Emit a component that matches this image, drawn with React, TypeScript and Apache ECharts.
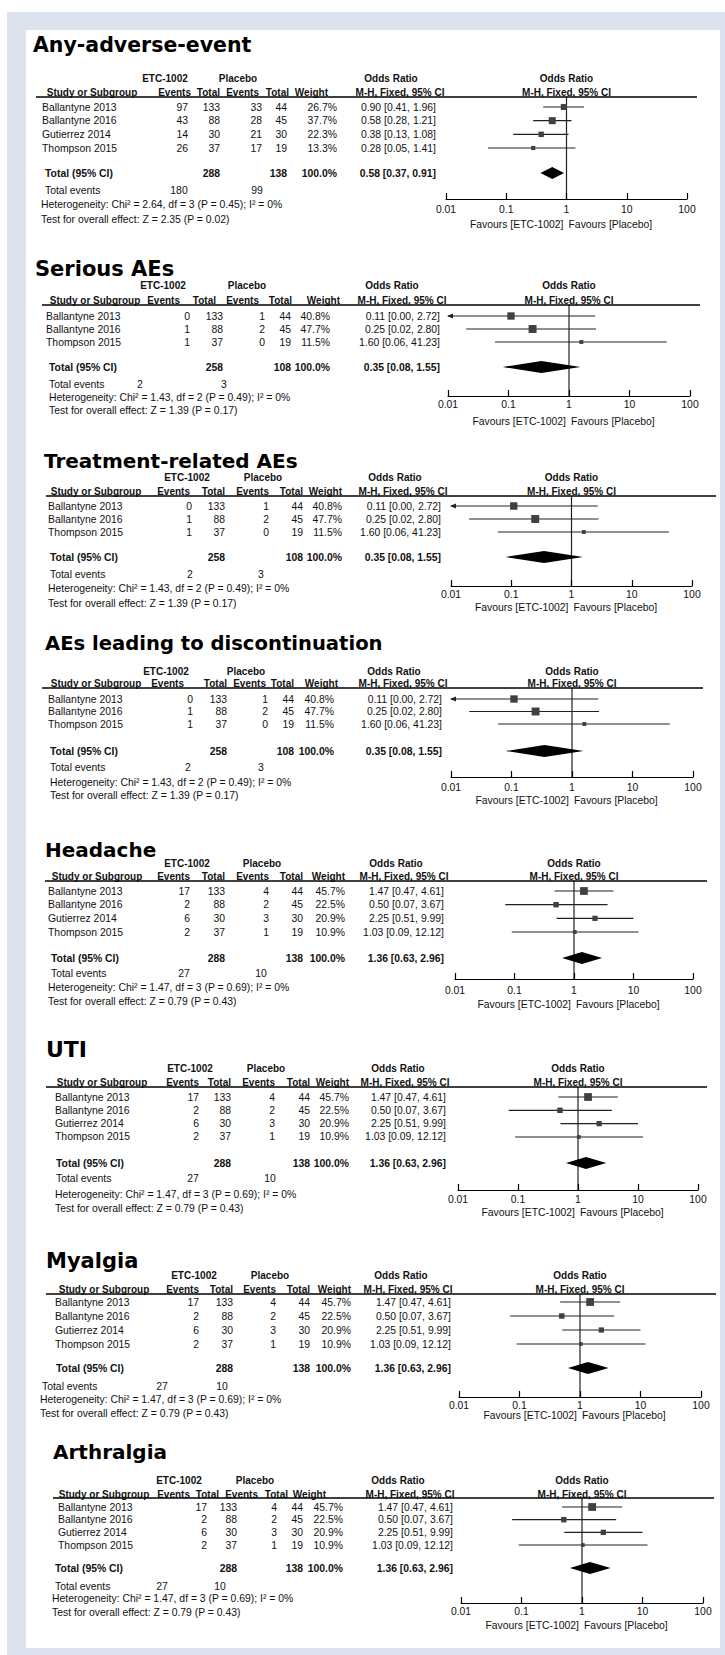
import React, { useEffect, useRef } from 'react';
import * as echarts from 'echarts';

const WIDTH = 725;
const HEIGHT = 1655;
const AXIS_MIN = 0.01;
const AXIS_MAX = 100;
const tickLabels = ['0.01', '0.1', '1', '10', '100'];

const panelTitles = [
  'Any-adverse-event',
  'Serious AEs',
  'Treatment-related AEs',
  'AEs leading to discontinuation',
  'Headache',
  'UTI',
  'Myalgia',
  'Arthralgia',
];

// ---- Any adverse event ----
const anyStudies = ['Ballantyne 2013', 'Ballantyne 2016', 'Gutierrez 2014', 'Thompson 2015'];
const anyEtcEvents = [97, 43, 14, 26];
const anyEtcTotal = [133, 88, 30, 37];
const anyPlaEvents = [33, 28, 21, 17];
const anyPlaTotal = [44, 45, 30, 19];
const anyWeight = [26.7, 37.7, 22.3, 13.3];
const anyOR = [0.9, 0.58, 0.38, 0.28];
const anyLow = [0.41, 0.28, 0.13, 0.05];
const anyHigh = [1.96, 1.21, 1.08, 1.41];
const anyTotals = [288, 138];
const anyPooled = [0.58, 0.37, 0.91];
const anyTotalEvents = [180, 99];
const anyStats = ['Chi² = 2.64, df = 3 (P = 0.45); I² = 0%', 'Z = 2.35 (P = 0.02)'];

// ---- Serious / treatment-related / discontinuation AEs (identical figures) ----
const saeStudies = ['Ballantyne 2013', 'Ballantyne 2016', 'Thompson 2015'];
const saeEtcEvents = [0, 1, 1];
const saeEtcTotal = [133, 88, 37];
const saePlaEvents = [1, 2, 0];
const saePlaTotal = [44, 45, 19];
const saeWeight = [40.8, 47.7, 11.5];
const saeOR = [0.11, 0.25, 1.6];
const saeLow = [0.0, 0.02, 0.06];
const saeHigh = [2.72, 2.8, 41.23];
const saeTotals = [258, 108];
const saePooled = [0.35, 0.08, 1.55];
const saeTotalEvents = [2, 3];
const saeStats = ['Chi² = 1.43, df = 2 (P = 0.49); I² = 0%', 'Z = 1.39 (P = 0.17)'];

// ---- Headache / UTI / Myalgia / Arthralgia (identical figures) ----
const ccStudies = ['Ballantyne 2013', 'Ballantyne 2016', 'Gutierrez 2014', 'Thompson 2015'];
const ccEtcEvents = [17, 2, 6, 2];
const ccEtcTotal = [133, 88, 30, 37];
const ccPlaEvents = [4, 2, 3, 1];
const ccPlaTotal = [44, 45, 30, 19];
const ccWeight = [45.7, 22.5, 20.9, 10.9];
const ccOR = [1.47, 0.5, 2.25, 1.03];
const ccLow = [0.47, 0.07, 0.51, 0.09];
const ccHigh = [4.61, 3.67, 9.99, 12.12];
const ccTotals = [288, 138];
const ccPooled = [1.36, 0.63, 2.96];
const ccTotalEvents = [27, 10];
const ccStats = ['Chi² = 1.47, df = 3 (P = 0.69); I² = 0%', 'Z = 0.79 (P = 0.43)'];

type PanelData = {
  studies: string[]; etcEvents: number[]; etcTotal: number[]; plaEvents: number[]; plaTotal: number[];
  weight: number[]; or: number[]; low: number[]; high: number[];
  totals: number[]; pooled: number[]; totalEvents: number[]; stats: string[];
};

const anyData: PanelData = {
  studies: anyStudies, etcEvents: anyEtcEvents, etcTotal: anyEtcTotal, plaEvents: anyPlaEvents, plaTotal: anyPlaTotal,
  weight: anyWeight, or: anyOR, low: anyLow, high: anyHigh, totals: anyTotals, pooled: anyPooled,
  totalEvents: anyTotalEvents, stats: anyStats,
};
const saeData: PanelData = {
  studies: saeStudies, etcEvents: saeEtcEvents, etcTotal: saeEtcTotal, plaEvents: saePlaEvents, plaTotal: saePlaTotal,
  weight: saeWeight, or: saeOR, low: saeLow, high: saeHigh, totals: saeTotals, pooled: saePooled,
  totalEvents: saeTotalEvents, stats: saeStats,
};
const ccData: PanelData = {
  studies: ccStudies, etcEvents: ccEtcEvents, etcTotal: ccEtcTotal, plaEvents: ccPlaEvents, plaTotal: ccPlaTotal,
  weight: ccWeight, or: ccOR, low: ccLow, high: ccHigh, totals: ccTotals, pooled: ccPooled,
  totalEvents: ccTotalEvents, stats: ccStats,
};
const panelData = [anyData, saeData, saeData, saeData, ccData, ccData, ccData, ccData];

// ---- layout (pixel positions per panel) ----
type Layout = {
  titleX: number; titleY: number; titleSize: number;
  hdr1Y: number; hdr2Y: number; lineY: number; lineX1: number; lineX2: number;
  row0: number; step: number; totalY: number; totEvY: number; hetY: number; testY: number;
  studyX: number; totalX: number; totEvX: number; hetX: number;
  e1: number; t1: number; e2: number; t2: number; w: number; orR: number;
  hE1: number; hT1: number; hE2: number; hT2: number; hW: number;
  studyC: number; etcC: number; plaC: number; orC: number; mhC: number;
  tev1: number; tev2: number;
  x001: number; x100: number; axisY: number; labY: number; favY: number;
};

const layouts: Layout[] = [
  { titleX: 33, titleY: 45, titleSize: 20.5, hdr1Y: 78, hdr2Y: 92, lineY: 97, lineX1: 36, lineX2: 697,
    row0: 107, step: 13.67, totalY: 173, totEvY: 190, hetY: 204, testY: 219,
    studyX: 42, totalX: 45, totEvX: 45, hetX: 41,
    e1: 188, t1: 220, e2: 262, t2: 287, w: 337, orR: 436,
    hE1: 191, hT1: 220, hE2: 259, hT2: 289, hW: 328,
    studyC: 92, etcC: 165, plaC: 238, orC: 391, mhC: 400, tev1: 179, tev2: 257,
    x001: 446, x100: 687, axisY: 199, labY: 210, favY: 224 },
  { titleX: 35, titleY: 269, titleSize: 21, hdr1Y: 285, hdr2Y: 300, lineY: 305, lineX1: 42, lineX2: 700,
    row0: 316, step: 13, totalY: 367, totEvY: 384, hetY: 397, testY: 410,
    studyX: 46, totalX: 49, totEvX: 49, hetX: 49,
    e1: 190, t1: 223, e2: 265, t2: 291, w: 330, orR: 440,
    hE1: 180, hT1: 216, hE2: 259, hT2: 292, hW: 340,
    studyC: 95, etcC: 163, plaC: 247, orC: 392, mhC: 402, tev1: 140, tev2: 224,
    x001: 448, x100: 690, axisY: 396, labY: 405, favY: 421 },
  { titleX: 44, titleY: 461, titleSize: 20, hdr1Y: 477, hdr2Y: 491, lineY: 496, lineX1: 46, lineX2: 716,
    row0: 506, step: 13, totalY: 557, totEvY: 574, hetY: 588, testY: 603,
    studyX: 48, totalX: 50, totEvX: 50, hetX: 48,
    e1: 192, t1: 225, e2: 269, t2: 303, w: 342, orR: 441,
    hE1: 190, hT1: 225, hE2: 269, hT2: 303, hW: 342,
    studyC: 96, etcC: 187, plaC: 263, orC: 395, mhC: 403, tev1: 190, tev2: 261,
    x001: 451, x100: 692, axisY: 586, labY: 595, favY: 607 },
  { titleX: 45, titleY: 643, titleSize: 19.6, hdr1Y: 671, hdr2Y: 683, lineY: 688, lineX1: 42, lineX2: 703,
    row0: 699, step: 12.5, totalY: 751, totEvY: 767, hetY: 782, testY: 795,
    studyX: 48, totalX: 50, totEvX: 50, hetX: 50,
    e1: 193, t1: 227, e2: 268, t2: 294, w: 334, orR: 442,
    hE1: 184, hT1: 227, hE2: 266, hT2: 294, hW: 338,
    studyC: 96, etcC: 166, plaC: 246, orC: 394, mhC: 403, tev1: 188, tev2: 261,
    x001: 451, x100: 693, axisY: 777, labY: 788, favY: 800 },
  { titleX: 45, titleY: 850, titleSize: 20, hdr1Y: 863, hdr2Y: 876, lineY: 881, lineX1: 45, lineX2: 707,
    row0: 891, step: 13.67, totalY: 958, totEvY: 973, hetY: 987, testY: 1001,
    studyX: 48, totalX: 51, totEvX: 51, hetX: 48,
    e1: 190, t1: 225, e2: 269, t2: 303, w: 345, orR: 444,
    hE1: 190, hT1: 225, hE2: 269, hT2: 303, hW: 345,
    studyC: 97, etcC: 187, plaC: 262, orC: 396, mhC: 404, tev1: 184, tev2: 261,
    x001: 455, x100: 693, axisY: 979, labY: 991, favY: 1004 },
  { titleX: 46, titleY: 1049, titleSize: 22, hdr1Y: 1068, hdr2Y: 1082, lineY: 1087, lineX1: 46, lineX2: 707,
    row0: 1097, step: 13.33, totalY: 1163, totEvY: 1178, hetY: 1194, testY: 1208,
    studyX: 55, totalX: 56, totEvX: 56, hetX: 55,
    e1: 199, t1: 231, e2: 275, t2: 310, w: 349, orR: 446,
    hE1: 199, hT1: 231, hE2: 275, hT2: 310, hW: 349,
    studyC: 102, etcC: 190, plaC: 266, orC: 398, mhC: 405, tev1: 193, tev2: 270,
    x001: 458, x100: 698, axisY: 1190, labY: 1200, favY: 1212 },
  { titleX: 46, titleY: 1261, titleSize: 21, hdr1Y: 1275, hdr2Y: 1289, lineY: 1294, lineX1: 46, lineX2: 716,
    row0: 1302, step: 14, totalY: 1368, totEvY: 1386, hetY: 1399, testY: 1413,
    studyX: 55, totalX: 56, totEvX: 42, hetX: 40,
    e1: 199, t1: 233, e2: 276, t2: 310, w: 351, orR: 451,
    hE1: 199, hT1: 233, hE2: 276, hT2: 310, hW: 351,
    studyC: 104, etcC: 194, plaC: 270, orC: 401, mhC: 408, tev1: 162, tev2: 222,
    x001: 459, x100: 701, axisY: 1397, labY: 1406, favY: 1415 },
  { titleX: 53, titleY: 1452, titleSize: 20, hdr1Y: 1480, hdr2Y: 1494, lineY: 1498, lineX1: 53, lineX2: 714,
    row0: 1507, step: 12.67, totalY: 1568, totEvY: 1586, hetY: 1598, testY: 1612,
    studyX: 58, totalX: 55, totEvX: 55, hetX: 52,
    e1: 207, t1: 237, e2: 277, t2: 303, w: 343, orR: 453,
    hE1: 190, hT1: 219, hE2: 258, hT2: 288, hW: 326,
    studyC: 104, etcC: 179, plaC: 255, orC: 398, mhC: 410, tev1: 162, tev2: 220,
    x001: 461, x100: 703, axisY: 1603, labY: 1612, favY: 1625 },
];

const FONT = '"Liberation Sans", Arial, Helvetica, sans-serif';
const BODY = `10.4px ${FONT}`;
const BOLD = `bold 10.4px ${FONT}`;
const HEAD = `bold 10px ${FONT}`;
const INK = '#111111';

function txt(text: string, x: number, y: number, align: string, font: string, fill = INK) {
  return {
    type: 'text',
    silent: true,
    z: 10,
    style: { text, x, y, textAlign: align, textVerticalAlign: 'middle', font, fill },
  };
}

function fmtCI(or: number, lo: number, hi: number) {
  return `${or.toFixed(2)} [${lo.toFixed(2)}, ${hi.toFixed(2)}]`;
}

function renderRow(_params: any, api: any) {
  const or = api.value(0);
  const lo = api.value(1);
  const hi = api.value(2);
  const row = api.value(3);
  const w = api.value(4);
  const kind = api.value(5);
  const pLo = api.coord([Math.max(lo, AXIS_MIN), row]);
  const pHi = api.coord([Math.min(hi, AXIS_MAX), row]);
  const pC = api.coord([or, row]);
  if (kind === 1) {
    return {
      type: 'polygon',
      shape: { points: [pLo, [pC[0], pC[1] - 6], pHi, [pC[0], pC[1] + 6]] },
      style: { fill: '#000000' },
    };
  }
  const s = 1.15 * Math.sqrt(w);
  const children: any[] = [
    { type: 'line', shape: { x1: pLo[0], y1: pLo[1], x2: pHi[0], y2: pHi[1] }, style: { stroke: '#222222', lineWidth: 1.2 } },
    { type: 'rect', shape: { x: pC[0] - s / 2, y: pC[1] - s / 2, width: s, height: s }, style: { fill: '#404040' } },
  ];
  if (lo < AXIS_MIN) {
    children.push({
      type: 'polygon',
      shape: { points: [[pLo[0] - 1, pLo[1]], [pLo[0] + 5, pLo[1] - 2.6], [pLo[0] + 5, pLo[1] + 2.6]] },
      style: { fill: '#222222' },
    });
  }
  return { type: 'group', children };
}

function renderNullLine(_params: any, api: any) {
  const a = api.coord([api.value(0), api.value(1)]);
  const b = api.coord([api.value(0), api.value(2)]);
  return { type: 'line', shape: { x1: a[0], y1: a[1], x2: b[0], y2: b[1] }, style: { stroke: '#222222', lineWidth: 1.2 } };
}

function tickFormatter(v: number) {
  const hit = tickLabels.find((t) => Math.abs(Math.log10(Number(t)) - Math.log10(v)) < 1e-6);
  return hit ?? '';
}

function buildOption() {
  const graphics: any[] = [
    { type: 'rect', z: -20, silent: true, shape: { x: 7, y: 12, width: 718, height: 1643 }, style: { fill: '#dde2ef' } },
    { type: 'rect', z: -10, silent: true, shape: { x: 26, y: 30, width: 694, height: 1618 }, style: { fill: '#ffffff' } },
  ];
  const grids: any[] = [];
  const xAxes: any[] = [];
  const yAxes: any[] = [];
  const series: any[] = [];

  panelData.forEach((p, i) => {
    const L = layouts[i];
    const x1 = (L.x001 + L.x100) / 2;
    graphics.push(txt(panelTitles[i], L.titleX, L.titleY, 'left', `bold ${L.titleSize}px "DejaVu Sans", Verdana, sans-serif`, '#000000'));
    // headers
    graphics.push(txt('ETC-1002', L.etcC, L.hdr1Y, 'center', HEAD));
    graphics.push(txt('Placebo', L.plaC, L.hdr1Y, 'center', HEAD));
    graphics.push(txt('Odds Ratio', L.orC, L.hdr1Y, 'center', HEAD));
    graphics.push(txt('Odds Ratio', x1, L.hdr1Y, 'center', HEAD));
    graphics.push(txt('Study or Subgroup', L.studyC, L.hdr2Y, 'center', HEAD));
    graphics.push(txt('Events', L.hE1, L.hdr2Y, 'right', HEAD));
    graphics.push(txt('Total', L.hT1, L.hdr2Y, 'right', HEAD));
    graphics.push(txt('Events', L.hE2, L.hdr2Y, 'right', HEAD));
    graphics.push(txt('Total', L.hT2, L.hdr2Y, 'right', HEAD));
    graphics.push(txt('Weight', L.hW, L.hdr2Y, 'right', HEAD));
    graphics.push(txt('M-H, Fixed, 95% CI', L.mhC, L.hdr2Y, 'center', HEAD));
    graphics.push(txt('M-H, Fixed, 95% CI', x1, L.hdr2Y, 'center', HEAD));
    graphics.push({
      type: 'line', silent: true, z: 10,
      shape: { x1: L.lineX1, y1: L.lineY, x2: L.lineX2, y2: L.lineY },
      style: { stroke: '#000000', lineWidth: 1.3 },
    });
    // rows
    p.studies.forEach((s, k) => {
      const y = L.row0 + k * L.step;
      graphics.push(txt(s, L.studyX, y, 'left', BODY));
      graphics.push(txt(String(p.etcEvents[k]), L.e1, y, 'right', BODY));
      graphics.push(txt(String(p.etcTotal[k]), L.t1, y, 'right', BODY));
      graphics.push(txt(String(p.plaEvents[k]), L.e2, y, 'right', BODY));
      graphics.push(txt(String(p.plaTotal[k]), L.t2, y, 'right', BODY));
      graphics.push(txt(`${p.weight[k].toFixed(1)}%`, L.w, y, 'right', BODY));
      graphics.push(txt(fmtCI(p.or[k], p.low[k], p.high[k]), L.orR, y, 'right', BODY));
    });
    // total
    graphics.push(txt('Total (95% CI)', L.totalX, L.totalY, 'left', BOLD));
    graphics.push(txt(String(p.totals[0]), L.t1, L.totalY, 'right', BOLD));
    graphics.push(txt(String(p.totals[1]), L.t2, L.totalY, 'right', BOLD));
    graphics.push(txt('100.0%', L.w, L.totalY, 'right', BOLD));
    graphics.push(txt(fmtCI(p.pooled[0], p.pooled[1], p.pooled[2]), L.orR, L.totalY, 'right', BOLD));
    graphics.push(txt('Total events', L.totEvX, L.totEvY, 'left', BODY));
    graphics.push(txt(String(p.totalEvents[0]), L.tev1, L.totEvY, 'center', BODY));
    graphics.push(txt(String(p.totalEvents[1]), L.tev2, L.totEvY, 'center', BODY));
    graphics.push(txt(`Heterogeneity: ${p.stats[0]}`, L.hetX, L.hetY, 'left', BODY));
    graphics.push(txt(`Test for overall effect: ${p.stats[1]}`, L.hetX, L.testY, 'left', BODY));
    graphics.push(txt('Favours [ETC-1002]', x1 - 3, L.favY, 'right', BODY));
    graphics.push(txt('Favours [Placebo]', x1 + 2, L.favY, 'left', BODY));

    // forest plot
    const yMin = (L.lineY - L.row0) / L.step;
    const yMax = (L.axisY - L.row0) / L.step;
    const totalIdx = (L.totalY - L.row0) / L.step;
    grids.push({ left: L.x001, top: L.lineY, width: L.x100 - L.x001, height: L.axisY - L.lineY, containLabel: false });
    xAxes.push({
      type: 'log', gridIndex: i, logBase: 10, min: AXIS_MIN, max: AXIS_MAX, splitNumber: 4, z: 5,
      axisLine: { show: true, onZero: false, lineStyle: { color: '#000000', width: 1.2 } },
      axisTick: { show: true, inside: true, length: 6, lineStyle: { color: '#000000', width: 1.2 } },
      axisLabel: {
        show: true, margin: Math.max(1, L.labY - L.axisY - 5.5), color: INK, fontSize: 10.4, fontFamily: FONT,
        showMinLabel: true, showMaxLabel: true, hideOverlap: false, formatter: tickFormatter,
      },
      splitLine: { show: false },
    });
    yAxes.push({ type: 'value', gridIndex: i, inverse: true, min: yMin, max: yMax, show: false });
    const rows = p.studies.map((_, k) => [p.or[k], p.low[k], p.high[k], k, p.weight[k], 0]);
    rows.push([p.pooled[0], p.pooled[1], p.pooled[2], totalIdx, 100, 1]);
    series.push({
      type: 'custom', xAxisIndex: i, yAxisIndex: i, renderItem: renderNullLine, silent: true, clip: false, z: 3,
      encode: { x: 0, y: 1 }, data: [[1, yMin, yMax]],
    });
    series.push({
      type: 'custom', xAxisIndex: i, yAxisIndex: i, renderItem: renderRow, silent: true, clip: false, z: 4,
      encode: { x: 0, y: 3 }, data: rows,
    });
  });

  return {
    animation: false,
    backgroundColor: '#ffffff',
    graphic: { elements: graphics },
    grid: grids,
    xAxis: xAxes,
    yAxis: yAxes,
    series,
  };
}

export default function App() {
  const ref = useRef<HTMLDivElement>(null);
  useEffect(() => {
    if (!ref.current) return;
    const chart = echarts.init(ref.current, undefined, { renderer: 'svg', width: WIDTH, height: HEIGHT });
    chart.setOption(buildOption() as any);
    return () => chart.dispose();
  }, []);
  return (
    <div
      ref={ref}
      style={{ position: 'absolute', left: 0, top: 0, width: WIDTH, height: HEIGHT, background: '#ffffff' }}
    />
  );
}
